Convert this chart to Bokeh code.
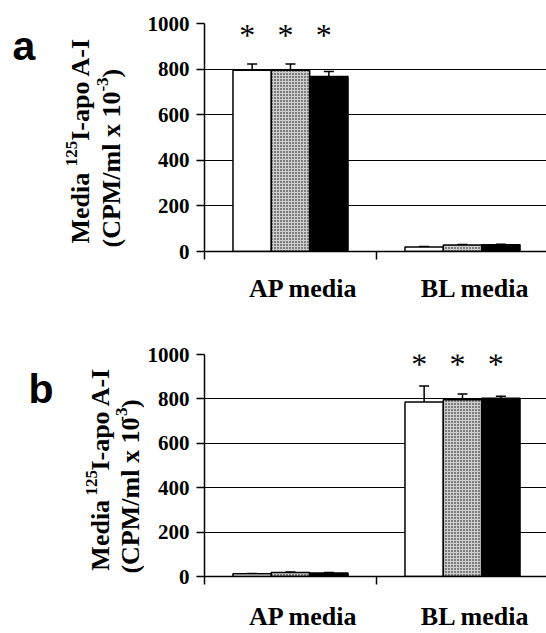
import math
from bokeh.plotting import figure
from bokeh.layouts import column, row
from bokeh.models import ColumnDataSource, FixedTicker, Whisker, TeeHead, Range1d
from bokeh.embed import file_html
from bokeh.resources import INLINE
from bokeh.core.properties import value

# ---------------- data ----------------
categories = ["AP media", "BL media"]
y_ticks = [0, 200, 400, 600, 800, 1000]

# panel a : values per category (AP, BL) for the three bar series
a_white = [795, 20]
a_dotted = [795, 29]
a_black = [768, 30]
a_white_err = [27, 2]
a_dotted_err = [27, 2]
a_black_err = [22, 2]
a_sig = [True, False]

# panel b
b_white = [12, 786]
b_dotted = [18, 796]
b_black = [16, 803]
b_white_err = [2, 72]
b_dotted_err = [2, 26]
b_black_err = [2, 9]
b_sig = [False, True]

y_label_line1 = [("Media ", False), ("125", True), ("I-apo A-I", False)]
y_label_line2 = [("(CPM/ml x 10", False), ("-3", True), (")", False)]

SERIF = '"Liberation Serif"'
SANS = '"Liberation Sans"'

W = 546
SIDE_W = 144        # width of the label strip on the left
AX_W = 60           # room for the y tick labels inside the chart figure
CAT_PX = 172        # px per category
FRAME_H = 228
X_END = (W - SIDE_W - AX_W) / CAT_PX
BAR_W = 0.223

# approximate advance widths (em) of Liberation Serif Bold for the label pieces
EM = {"Media ": 2.971, "125": 1.5, "I-apo A-I": 3.972,
      "(CPM/ml x 10": 5.998, "-3": 0.833, ")": 0.333}


def make_side(letter, height, top, letter_xy, lab_x, lab_start):
    bottom = height - top - FRAME_H
    # y data = canvas px from the top of this figure
    s = figure(width=SIDE_W, height=height, x_range=Range1d(0, SIDE_W),
               y_range=Range1d(top + FRAME_H, top), output_backend="svg",
               toolbar_location=None, x_axis_type=None, y_axis_type=None,
               min_border_left=0, min_border_right=0, min_border_top=top,
               min_border_bottom=bottom)
    s.outline_line_color = None
    s.xgrid.visible = False
    s.ygrid.visible = False
    s.background_fill_color = "white"
    s.border_fill_color = "white"
    s.text(x=[letter_xy[0]], y=[letter_xy[1]], text=[letter], text_font=value(SANS),
           text_font_style="bold", text_font_size="41px", text_baseline="alphabetic",
           text_align="left", text_color="black")
    main_fs, sup_fs = 26, 17
    for li, pieces in enumerate([y_label_line1, y_label_line2]):
        pos = lab_start[li]
        for txt, sup in pieces:
            fs = sup_fs if sup else main_fs
            bx = lab_x[li] - (9 if sup else 0)
            s.text(x=[bx], y=[pos], text=[txt], angle=math.pi / 2, text_font=value(SERIF),
                   text_font_style="bold", text_font_size=f"{fs}px", text_align="left",
                   text_baseline="alphabetic", text_color="black")
            pos -= EM[txt] * fs
    return s


def make_panel(vals, errs, sig, height, top, star_y, xstandoff):
    bottom = height - top - FRAME_H
    p = figure(width=W - SIDE_W, height=height, x_range=Range1d(0, X_END),
               y_range=Range1d(0, 1000), output_backend="svg", toolbar_location=None,
               min_border_left=AX_W, min_border_right=0, min_border_top=top,
               min_border_bottom=bottom)
    p.outline_line_color = None
    p.background_fill_color = "white"
    p.border_fill_color = "white"

    styles = [
        dict(fill_color="white"),
        dict(fill_color="#cfcfcf", hatch_pattern="dot", hatch_color="black",
             hatch_scale=3, hatch_weight=2.2),
        dict(fill_color="black"),
    ]
    offsets = [-BAR_W, 0, BAR_W]
    for k in range(3):
        xs = [i + 0.5 + offsets[k] for i in range(len(categories))]
        src = ColumnDataSource(dict(x=xs, top=vals[k],
                                    upper=[v + e for v, e in zip(vals[k], errs[k])]))
        p.vbar(x="x", top="top", width=BAR_W, source=src, line_color="black",
               line_width=1.5, **styles[k])
        p.add_layout(Whisker(source=src, base="x", upper="upper", lower="top",
                             dimension="height", line_width=1.5, line_color="black",
                             upper_head=TeeHead(size=10, line_width=1.5, line_color="black"),
                             lower_head=None))
        sx = [xs[i] for i in range(len(categories)) if sig[i]]
        p.text(x=sx, y=[star_y] * len(sx), text=["*"] * len(sx), text_align="center",
               text_baseline="alphabetic", text_font=value(SERIF),
               text_font_size="32px", x_offset=-5, text_color="black")

    yax = p.yaxis[0]
    yax.ticker = FixedTicker(ticks=y_ticks)
    yax.major_tick_out = 8
    yax.major_tick_in = 0
    yax.minor_tick_out = 0
    yax.minor_tick_in = 0
    yax.major_label_standoff = 7
    yax.major_label_text_font = SERIF
    yax.major_label_text_font_style = "bold"
    yax.major_label_text_font_size = "21px"
    yax.major_label_text_color = "black"
    yax.axis_line_width = 1.5
    yax.major_tick_line_width = 1.5

    lab_ticks = [round(i + 0.575, 3) for i in range(len(categories))]
    xax = p.xaxis[0]
    xax.ticker = FixedTicker(ticks=lab_ticks, minor_ticks=list(range(len(categories) + 1)))
    xax.major_label_overrides = {t: c for t, c in zip(lab_ticks, categories)}
    xax.major_tick_out = 0
    xax.major_tick_in = 0
    xax.minor_tick_out = 8
    xax.minor_tick_in = 0
    xax.minor_tick_line_width = 1.5
    xax.axis_line_width = 1.5
    xax.major_label_standoff = xstandoff
    xax.major_label_text_font = SERIF
    xax.major_label_text_font_style = "bold"
    xax.major_label_text_font_size = "26px"
    xax.major_label_text_color = "black"

    p.xgrid.visible = False
    p.ygrid.ticker = FixedTicker(ticks=y_ticks)
    p.ygrid.grid_line_color = "black"
    p.ygrid.grid_line_width = 1
    return p


HA, HB = 330, 303
TA, TB = 23, 24
pa = make_panel([a_white, a_dotted, a_black], [a_white_err, a_dotted_err, a_black_err],
                a_sig, height=HA, top=TA, star_y=951, xstandoff=14)
pb = make_panel([b_white, b_dotted, b_black], [b_white_err, b_dotted_err, b_black_err],
                b_sig, height=HB, top=TB, star_y=958, xstandoff=17)
sa = make_side("a", HA, TA, letter_xy=(12, 45), lab_x=(80, 111), lab_start=(243, 247))
sb = make_side("b", HB, TB, letter_xy=(28, 59), lab_x=(100, 130), lab_start=(246, 249))

layout = column(row(sa, pa, spacing=0), row(sb, pb, spacing=0), spacing=0)
open("out.html", "w").write(file_html(layout, INLINE))
